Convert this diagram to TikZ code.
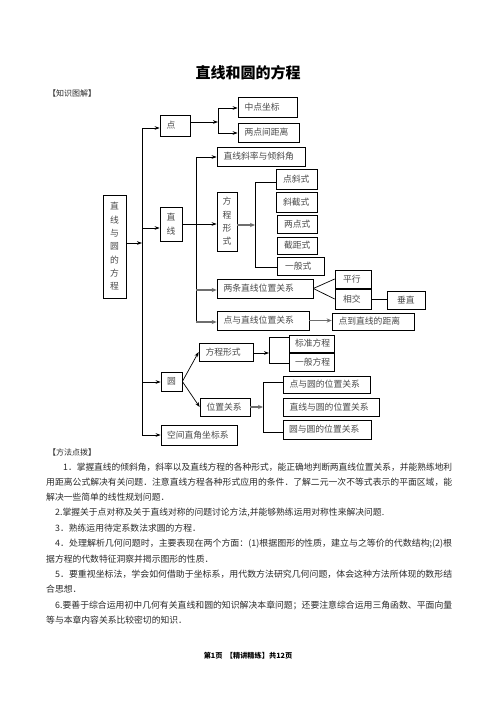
\documentclass[tikz,border=0pt]{standalone}
\usepackage{fontspec}
\usepackage{graphicx}
\setmainfont{Noto Sans CJK SC}
\usetikzlibrary{arrows.meta,calc}
\definecolor{txt}{HTML}{4A4A4A}
\definecolor{ptxt}{HTML}{2A2A2A}
\definecolor{thkc}{HTML}{6E6E6E}
\newcommand\myboxfont{\fontsize{8.8}{10}\selectfont}
\newcommand\myvfont{\fontsize{8.8}{13.3}\selectfont}
\newcommand\myparfont{\fontsize{8.8}{10}\selectfont}
\newcommand\myheadfont{\fontsize{8}{9}\selectfont}
\newcommand\mytitlefont{\fontsize{15}{16}\selectfont\bfseries}
\newcommand\myfootfont{\fontsize{7.2}{8}\selectfont\bfseries}
\newcommand\bx[7][6.5]{%
 \pgfmathsetmacro\bxw{#5-#3-2*#1}%
 \pgfmathsetmacro\bxh{#6-#4}%
 \node[box, inner xsep=#1pt, text width=\bxw pt, minimum height=\bxh pt] (#2) at ({(#3+#5)/2},{(#4+#6)/2}) {#7};}
\newcommand\vbx[6]{%
 \pgfmathsetmacro\bxw{#4-#2}%
 \pgfmathsetmacro\bxh{#5-#3}%
 \node[vbox, text width=\bxw pt, minimum height=\bxh pt] (#1) at ({(#2+#4)/2},{(#3+#5)/2}) {#6};}
\newcommand\fl[2]{\resizebox{#1pt}{\height}{#2}}
\begin{document}
\begin{tikzpicture}[x=1pt,y=-1pt,
 box/.style={draw=black, line width=0.7pt, inner ysep=0pt, align=left, font=\myboxfont, text=txt},
 vbox/.style={draw=black, line width=0.7pt, inner sep=0pt, align=center, font=\myvfont, text=txt},
 arr/.style={line width=0.7pt, -{Stealth[length=5pt,width=3.6pt]}},
 ln/.style={line width=0.7pt},
 thk/.style={line width=1.6pt, draw=thkc, -{Stealth[length=5pt,width=4.2pt]}},
 para/.style={anchor=west, inner sep=0pt, font=\myparfont, text=ptxt},
]
\useasboundingbox (0,0) rectangle (496,702);
\fill[white] (0,0) rectangle (496,702);

\node[font=\mytitlefont, text=black] (title) at (248,73) {直线和圆的方程};
\node[para, font=\myheadfont] (h1) at (48,93) {【知识图解】};

% boxes
\bx{dian}{160}{115}{190}{136}{点}
\bx{zd}{238}{97}{297}{117}{中点坐标}
\bx{ld}{238}{123}{299}{142}{两点间距离}
\bx{xl}{217}{147}{305}{166}{直线斜率与倾斜角}
\bx[7]{dxs}{276}{169}{317}{189}{点斜式}
\bx[7]{xjs}{276}{192}{317}{212}{斜截式}
\bx[7]{lds}{277}{215}{317}{233}{两点式}
\bx[7]{jjs}{277}{237}{317}{254}{截距式}
\bx[8]{ybs}{277}{257}{324}{275}{一般式}
\vbx{fc}{217}{192}{237}{251}{方\\程\\形\\式}
\vbx{zhix}{160}{207}{182}{241}{直\\线}
\vbx{zx}{103}{195}{126}{298}{直\\线\\与\\圆\\的\\方\\程}
\bx{lt}{217}{279}{313}{298}{两条直线位置关系}
\bx[8]{px}{335}{270}{371}{288}{平行}
\bx[8]{xj}{335}{289}{371}{309}{相交}
\bx[10]{cz}{387}{291}{425}{309}{垂直}
\bx{dy}{217}{311}{309}{330}{点与直线位置关系}
\bx{dd}{332}{313}{414}{330}{点到直线的距离}
\bx{fc2}{199}{343}{253}{361}{方程形式}
\bx[6]{bz}{289}{335}{334}{352}{标准方程}
\bx[6]{yb}{289}{353}{334}{371}{一般方程}
\bx[6]{yuan}{161}{372}{182}{391}{圆}
\bx{wz}{200}{398}{250}{416}{位置关系}
\bx{dyw}{283}{376}{370}{393}{点与圆的位置关系}
\bx{zyw}{283}{398}{379}{416}{直线与圆的位置关系}
\bx[6]{yyw}{283}{420}{371}{439}{圆与圆的位置关系}
\bx[6]{kj}{161}{425}{237}{445}{空间直角坐标系}

% main trunk
\coordinate (A1) at (142,128);
\coordinate (A2) at (142,435);
\coordinate (A0) at (142,243);
\coordinate (A3) at (142,228);
\coordinate (A4) at (142,382);
\draw[ln] (A1) -- (A2);
\draw[arr] (A0 -| zx.east) -- (A0);
\draw[arr] (A1) -- (A1 -| dian.west);
\draw[arr] (A3) -- (A3 -| zhix.west);
\draw[arr] (A4) -- (A4 -| yuan.west);
\draw[arr] (A2) -- (A2 -| kj.west);

% point branch
\coordinate (B0) at (218,122);
\coordinate (B1) at (218,108);
\coordinate (B2) at (218,133);
\draw[arr] (B0 -| dian.east) -- (B0);
\draw[ln] (B1) -- (B2);
\draw[arr] (B1) -- (B1 -| zd.west);
\draw[arr] (B2) -- (B2 -| ld.west);

% line trunk
\coordinate (C1) at (196,157);
\coordinate (C2) at (196,290);
\coordinate (C3) at (196,322);
\draw[ln] (C1) -- (C3);
\draw[arr] (C1) -- (C1 -| xl.west);
\draw[thk] (C2) -- (C2 -| lt.west);
\draw[thk] (C3) -- (C3 -| dy.west);
\draw[arr] (zhix.east) -- (zhix.east -| fc.west);

% equation forms
\coordinate (D0) at (255,225);
\coordinate (D1) at (255,182);
\coordinate (D2) at (255,267);
\draw[thk] (D0 -| fc.east) -- (D0);
\draw[ln] (D1) -- (D2);
\draw[ln] (D1) -- (D1 -| dxs.west);
\draw[ln] (D2) -- (D2 -| ybs.west);

% two lines
\draw[ln] (lt.east) -- (px.west);
\draw[ln] (lt.east) -- (xj.west);
\draw[ln] (xj.east) -- (xj.east -| cz.west);
\draw[thk] (dy.east) -- (dy.east -| dd.west);

% circle
\draw[arr] (yuan.east) -- (fc2.west);
\draw[arr] (yuan.east) -- (wz.west);
\coordinate (E0) at (269,353);
\coordinate (E1) at (269,337);
\coordinate (E2) at (269,363);
\draw[arr] (E0 -| fc2.east) -- (E0);
\draw[ln] (E1) -- (E2);
\draw[ln] (E1) -- (E1 -| bz.west);
\draw[ln] (E2) -- (E2 -| yb.west);
\coordinate (F0) at (263,407);
\coordinate (F1) at (263,382);
\coordinate (F2) at (263,432);
\draw[thk] (F0 -| wz.east) -- (F0);
\draw[ln] (F1) -- (F2);
\draw[ln] (F1) -- (F1 -| dyw.west);
\draw[ln] (F2) -- (F2 -| yyw.west);

% text
\node[para, font=\myheadfont] (h2) at (48,452) {【方法点拨】};
\node[para] (p1) at (63,467) {\fl{389}{1．掌握直线的倾斜角，斜率以及直线方程的各种形式，能正确地判断两直线位置关系，并能熟练地利}};
\node[para] (p2) at (46,482) {\fl{406}{用距离公式解决有关问题．注意直线方程各种形式应用的条件．了解二元一次不等式表示的平面区域，能}};
\node[para] (p3) at (46,497.5) {解决一些简单的线性规划问题．};
\node[para] (p4) at (55,513) {2.掌握关于点对称及关于直线对称的问题讨论方法,并能够熟练运用对称性来解决问题.};
\node[para] (p5) at (55,528) {3．熟练运用待定系数法求圆的方程．};
\node[para] (p6) at (55,543.5) {\fl{397}{4．处理解析几何问题时，主要表现在两个方面：(1)根据图形的性质，建立与之等价的代数结构;(2)根}};
\node[para] (p7) at (46,559) {据方程的代数特征洞察并揭示图形的性质．};
\node[para] (p8) at (55,574) {\fl{397}{5．要重视坐标法，学会如何借助于坐标系，用代数方法研究几何问题，体会这种方法所体现的数形结}};
\node[para] (p9) at (46,589.5) {合思想．};
\node[para] (p10) at (55,605) {\fl{397}{6.要善于综合运用初中几何有关直线和圆的知识解决本章问题；还要注意综合运用三角函数、平面向量}};
\node[para] (p11) at (46,620) {等与本章内容关系比较密切的知识．};
\node[font=\myfootfont, text=black, inner sep=0pt] (foot) at (248,656) {第1页\ \ 【精讲精练】共12页};
\end{tikzpicture}
\end{document}
